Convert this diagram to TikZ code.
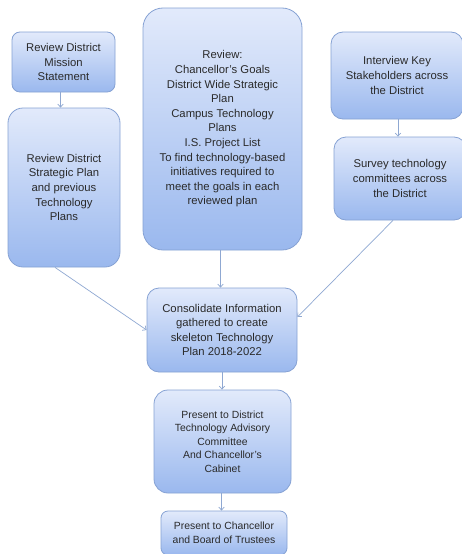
\documentclass[tikz,border=0pt]{standalone}
\usepackage{fontspec}
\setmainfont{Liberation Sans}
\usetikzlibrary{arrows.meta,calc}
\definecolor{boxtop}{HTML}{E2EAFB}
\definecolor{boxbot}{HTML}{9AB8EE}
\definecolor{boxline}{HTML}{86A2D4}
\definecolor{arrc}{HTML}{8FA8D2}
\definecolor{txt}{HTML}{2A2A2A}
\tikzset{
  box/.style={draw=boxline, line width=0.8pt, top color=boxtop, bottom color=boxbot,
    align=center, text=txt, inner sep=0pt,
    font=\fontsize{11.3}{14.6}\selectfont},
  smallbox/.style={box, font=\fontsize{10.4}{13.6}\selectfont},
  arr/.style={draw=arrc, line width=0.7pt, -{Straight Barb[length=3pt,width=5.5pt]}}
}
\begin{document}
\begin{tikzpicture}[x=1pt,y=-1pt]
\path[use as bounding box, clip] (0,0) rectangle (462,554);
\fill[white] (0,0) rectangle (462,554);
\node[box, minimum width=103pt, minimum height=60pt, rounded corners=8pt] (a) at (63.5,62)
  {Review District\\Mission\\Statement};
\node[box, minimum width=112pt, minimum height=159pt, rounded corners=15pt] (b) at (64,187.5)
  {Review District\\Strategic Plan\\and previous\\Technology\\Plans};
\node[box, minimum width=159pt, minimum height=242pt, rounded corners=20pt] (c) at (222.5,129)
  {Review:\\Chancellor’s Goals\\District Wide Strategic\\Plan\\Campus Technology\\Plans\\I.S. Project List\\To find technology-based\\initiatives required to\\meet the goals in each\\reviewed plan};
\node[box, minimum width=132pt, minimum height=87pt, rounded corners=12pt] (d) at (397,75.5)
  {Interview Key\\Stakeholders across\\the District};
\node[box, minimum width=132pt, minimum height=83pt, rounded corners=12pt] (e) at (400,178.5)
  {Survey technology\\committees across\\the District};
\node[box, minimum width=150pt, minimum height=84pt, rounded corners=12pt] (f) at (222,330)
  {Consolidate Information\\gathered to create\\skeleton Technology\\Plan 2018-2022};
\node[smallbox, minimum width=137pt, minimum height=103pt, rounded corners=14pt] (g) at (222.5,441.5)
  {Present to District\\Technology Advisory\\Committee\\And Chancellor’s\\Cabinet};
\node[smallbox, minimum width=126pt, minimum height=44pt, rounded corners=7pt] (h) at (224,533)
  {Present to Chancellor\\and Board of Trustees};
\draw[arr] ($(a.south)+(-3,0)$) -- ($(a.south |- b.north)+(-3,0)$);
\draw[arr] ($(d.south)+(1,0)$) -- ($(d.south |- e.north)+(1,0)$);
\draw[arr] ($(c.south)+(-2,0)$) -- ($(c.south |- f.north)+(-2,0)$);
\draw[arr] ($(b.south)+(-9,0)$) -- (f.west);
\draw[arr] ($(e.south)+(-7,0)$) -- ($(f.east)+(0,-13)$);
\draw[arr] (f.south) -- (f.south |- g.north);
\draw[arr] ($(g.south)+(-1,0)$) -- ($(g.south |- h.north)+(-1,0)$);
\end{tikzpicture}
\end{document}
